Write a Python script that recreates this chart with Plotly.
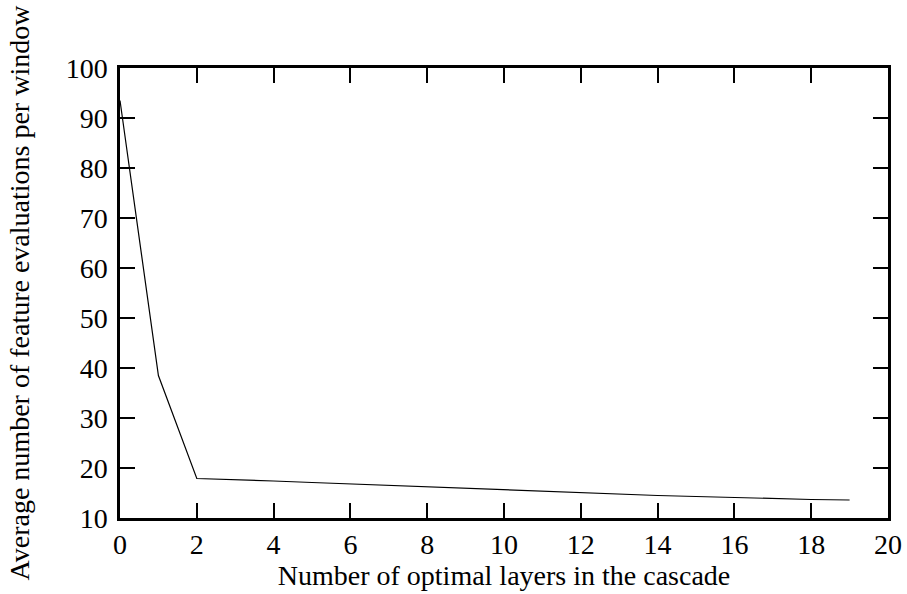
import plotly.graph_objects as go

layers = list(range(20))
evals = [93.5, 38.5, 17.9, 17.7, 17.4, 17.1, 16.8, 16.5, 16.2, 15.9,
         15.6, 15.3, 15.0, 14.8, 14.5, 14.3, 14.05, 13.85, 13.7, 13.6]
x_ticks = list(range(0, 21, 2))
y_ticks = list(range(10, 101, 10))

font = dict(family="Liberation Serif", size=28, color="black")

fig = go.Figure()
fig.add_trace(go.Scatter(x=layers, y=evals, mode="lines",
                         line=dict(color="black", width=1.2), showlegend=False))

axis_common = dict(showline=True, linecolor="black", linewidth=2.5, mirror="ticks",
                   ticks="inside", ticklen=15, tickwidth=2, tickcolor="black",
                   showgrid=False, zeroline=False, tickfont=font, automargin=False)

fig.update_xaxes(range=[0, 20], tickvals=x_ticks,
                 title=dict(text="Number of optimal layers in the cascade", font=font, standoff=4),
                 **axis_common)
fig.update_yaxes(range=[10, 100], tickvals=y_ticks, ticklabelstandoff=4,
                 title=dict(text="Average number of feature evaluations per window", font=font, standoff=28),
                 **axis_common)

fig.update_layout(width=907, height=594, plot_bgcolor="white", paper_bgcolor="white",
                  margin=dict(l=120, r=19, t=68, b=76), font=font)

fig.write_html("out.html")
